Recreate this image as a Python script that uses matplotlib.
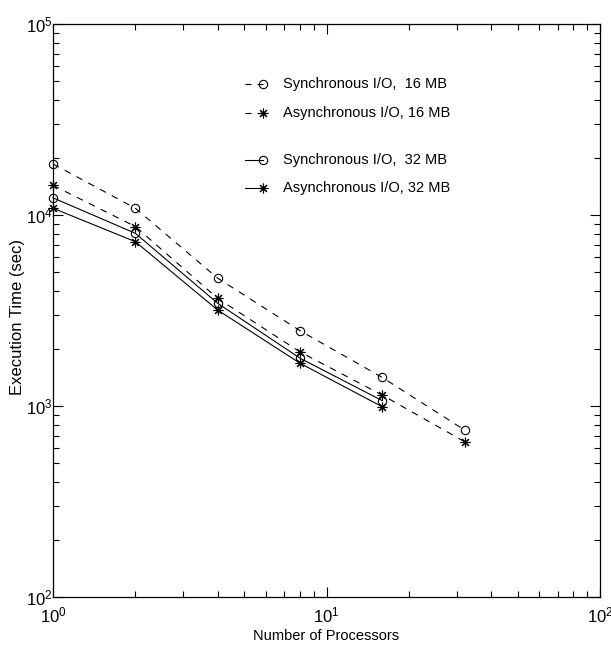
import matplotlib
matplotlib.use("Agg")
import matplotlib.pyplot as plt
from matplotlib.lines import Line2D
from matplotlib.ticker import LogLocator, NullFormatter

# ---- data ----
procs_16 = [1, 2, 4, 8, 16, 32]
procs_32 = [1, 2, 4, 8, 16]
sync_16 = [18500, 10850, 4670, 2480, 1410, 748]
async_16 = [14300, 8700, 3660, 1920, 1140, 650]
sync_32 = [12300, 8020, 3450, 1780, 1066]
async_32 = [10850, 7250, 3180, 1675, 990]

labels = ["Synchronous I/O,  16 MB", "Asynchronous I/O, 16 MB",
          "Synchronous I/O,  32 MB", "Asynchronous I/O, 32 MB"]

plt.rcParams['font.family'] = ['Liberation Sans', 'DejaVu Sans']

fig = plt.figure(figsize=(6.11, 6.5), dpi=100)
ax = fig.add_axes([53/611, 53/650, 547/611, 573/650])

lw = 0.8
dash = (0, (6, 6))
circ = dict(marker='o', markersize=6, markerfacecolor='none', markeredgecolor='black', markeredgewidth=0.8)
star = dict(marker=(8, 2, 0), markersize=7, markeredgecolor='black', markeredgewidth=0.8)

ax.plot(procs_16, sync_16, color='black', lw=lw, linestyle=dash, clip_on=False, **circ)
ax.plot(procs_16, async_16, color='black', lw=lw, linestyle=dash, clip_on=False, **star)
ax.plot(procs_32, sync_32, color='black', lw=lw, linestyle='-', clip_on=False, **circ)
ax.plot(procs_32, async_32, color='black', lw=lw, linestyle='-', clip_on=False, **star)

ax.set_xscale('log')
ax.set_yscale('log')
ax.set_xlim(1, 100)
ax.set_ylim(100, 100000)

ax.xaxis.set_major_locator(LogLocator(base=10, numticks=10))
ax.yaxis.set_major_locator(LogLocator(base=10, numticks=10))
ax.xaxis.set_minor_locator(LogLocator(base=10, subs=range(2, 10), numticks=20))
ax.yaxis.set_minor_locator(LogLocator(base=10, subs=range(2, 10), numticks=20))
ax.xaxis.set_minor_formatter(NullFormatter())
ax.yaxis.set_minor_formatter(NullFormatter())

ax.tick_params(which='both', direction='in', top=True, right=True, labelsize=12, width=0.8)
ax.tick_params(which='major', length=7)
ax.tick_params(which='minor', length=4)
ax.tick_params(axis='x', which='major', pad=6)
ax.tick_params(axis='y', which='major', pad=0)
for s in ax.spines.values():
    s.set_linewidth(0.9)

ax.set_xlabel("Number of Processors", fontsize=10.5, labelpad=3)
fig.text(18/611, 1 - 317/650, "Execution Time (sec)", fontsize=12,
         rotation=90, ha='center', va='center')

# ---- legend (manual, two groups) ----
leg_y = [0.895, 0.845, 0.763, 0.714]
styles = [(dash, circ), (dash, star), ('-', circ), ('-', star)]
for yy, (ls, mk), lab in zip(leg_y, styles, labels):
    ax.add_line(Line2D([0.351, 0.384], [yy, yy], transform=ax.transAxes,
                       color='black', lw=lw, linestyle=(0, (5.4, 5.4)) if ls == dash else '-'))
    ax.add_line(Line2D([0.384], [yy], transform=ax.transAxes, color='black',
                       linestyle='none', **mk))
    ax.text(0.420, yy, lab, transform=ax.transAxes, fontsize=10.5, va='center', ha='left')

fig.savefig("out.png", dpi=100)
